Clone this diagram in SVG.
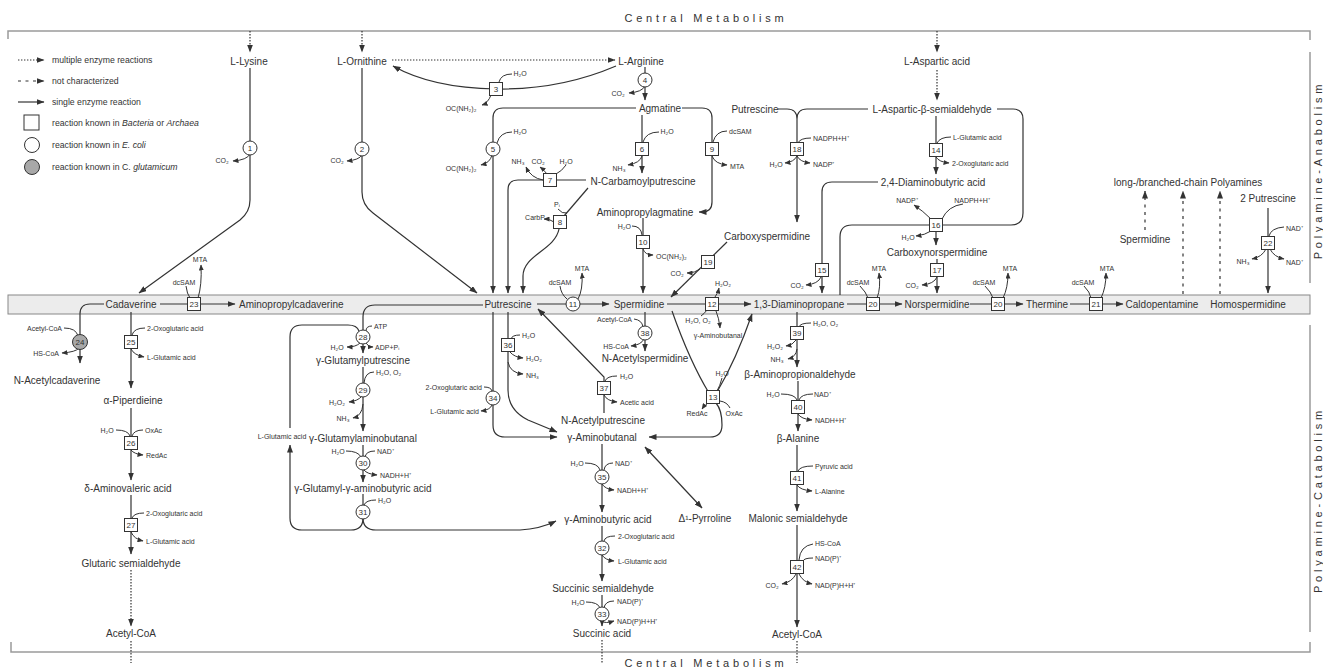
<svg xmlns="http://www.w3.org/2000/svg" width="1323" height="669" viewBox="0 0 1323 669">
<defs>
<style>
text{font-family:"Liberation Sans",Arial,sans-serif;fill:#333}
.n{font-size:10px;text-anchor:middle}
.nl{font-size:10px;text-anchor:start}
.s{font-size:7px}
.sm{font-size:7px;text-anchor:middle}
.se{font-size:7px;text-anchor:end}
.k{font-size:8px;text-anchor:middle}
.lg{font-size:8.7px}
.fr{fill:none;stroke:#9a9a9a;stroke-width:1.5}
.ti{font-size:11px;letter-spacing:3.8px;text-anchor:middle}
.l{fill:none;stroke:#333;stroke-width:1.2}
.a{marker-end:url(#ah)}
.h{fill:none;stroke:#333;stroke-width:1}
.ha{marker-end:url(#sh)}
.dot{stroke-dasharray:1.4 1.6}
.dash{stroke-dasharray:3 4.5}
.bx{fill:#fff;stroke:#333;stroke-width:1}
.ci{fill:#fff;stroke:#333;stroke-width:1}
.gy{fill:#a8a8a8;stroke:#333;stroke-width:1}
</style>
<marker id="ah" viewBox="0 0 8 6" refX="7.5" refY="3" markerWidth="8" markerHeight="6" markerUnits="userSpaceOnUse" orient="auto"><path d="M0,0L8,3L0,6z" fill="#333"/></marker>
<marker id="ahr" viewBox="0 0 8 6" refX="7.5" refY="3" markerWidth="8" markerHeight="6" markerUnits="userSpaceOnUse" orient="auto-start-reverse"><path d="M0,0L8,3L0,6z" fill="#333"/></marker>
<marker id="sh" viewBox="0 0 6 5" refX="5.5" refY="2.5" markerWidth="6" markerHeight="5" markerUnits="userSpaceOnUse" orient="auto"><path d="M0,0L6,2.5L0,5z" fill="#333"/></marker>
</defs>
<rect width="1323" height="669" fill="#fff"/>
<g id="frame">
<path class="fr" d="M8,39V31H1310V40"/>
<path class="fr" d="M11,642V652H1310V642"/>
<path class="fr" d="M1310,52V283M1310,325V632"/>
<rect x="8" y="295" width="1302" height="19" fill="#ececec" stroke="#888" stroke-width="1"/>
<text class="ti" x="706" y="22">Central Metabolism</text>
<text class="ti" x="706" y="667">Central Metabolism</text>
<text class="ti" transform="translate(1322,170) rotate(-90)">Polyamine-Anabolism</text>
<text class="ti" transform="translate(1322,500) rotate(-90)">Polyamine-Catabolism</text>
</g>
<g id="legend">
<path class="l dot a" d="M18,60H44"/>
<text class="lg" x="52" y="63">multiple enzyme reactions</text>
<path class="l dash a" d="M18,81H44"/>
<text class="lg" x="52" y="84">not characterized</text>
<path class="l a" d="M18,102H44"/>
<text class="lg" x="52" y="105">single enzyme reaction</text>
<rect class="bx" x="24" y="115" width="15" height="15"/>
<text class="lg" x="52" y="126">reaction known in <tspan font-style="italic">Bacteria</tspan> or <tspan font-style="italic">Archaea</tspan></text>
<circle class="ci" cx="32" cy="145" r="7.5"/>
<text class="lg" x="52" y="148">reaction known in <tspan font-style="italic">E. coli</tspan></text>
<circle class="gy" cx="32" cy="167" r="7.5"/>
<text class="lg" x="52" y="170">reaction known in C. <tspan font-style="italic">glutamicum</tspan></text>
</g>
<g id="connectors">
<path class="l dot a" d="M250,31V52"/>
<path class="l dot a" d="M362,31V52"/>
<path class="l dot a" d="M937,31V52"/>
<path class="l dot a" d="M392,60H615"/>
<path class="l dot a" d="M937,70V100"/>
<path class="l a" d="M250,68V200Q250,212 240,220L139,293"/>
<path class="l a" d="M362,68V192Q362,205 373,213L477,293"/>
<path class="l a" d="M616,66Q560,90 496,89Q432,88 393,66"/>
<path class="l a" d="M645,67V100"/>
<path class="l a" d="M636,108H503Q493,108 493,118V293"/>
<path class="l a" d="M642,115V173"/>
<path class="l a" d="M586,180H518Q508,180 508,190V293"/>
<path class="l" d="M588,188L564,216"/>
<path class="l a" d="M559,229C555,250 523,255 523,276V293"/>
<path class="l a" d="M682,108H702Q712,108 712,118V202Q712,212 702,212H699"/>
<path class="l a" d="M643,218V293"/>
<path class="l a" d="M727,242L671,297"/>
<path class="l" d="M778,109H787Q797,109 797,119M868,109H807Q797,109 797,119"/>
<path class="l a" d="M797,119V222"/>
<path class="l a" d="M936,116V174"/>
<path class="l a" d="M878,182H832Q822,182 822,192V293"/>
<path class="l" d="M840,295V237Q840,225 852,225H930"/>
<path class="l" d="M997,109H1013Q1023,109 1023,119V213Q1023,225 1011,225H942"/>
<path class="l a" d="M936,232V245"/>
<path class="l a" d="M937,259V293"/>
<path class="l a" d="M1268,208V293"/>
<path class="l dash a" d="M1145,230V191"/>
<path class="l dash a" d="M1183,294V191"/>
<path class="l dash a" d="M1220,294V191"/>
<path class="l a" d="M160,304H235"/>
<path class="l a" d="M537,304H609"/>
<path class="l a" d="M667,304H751"/>
<path class="l a" d="M847,304H902"/>
<path class="l a" d="M970,304H1023"/>
<path class="l a" d="M1070,304H1123"/>
<path class="l a" d="M104,304H90Q80,304 80,314V363"/>
<path class="l a" d="M131,312V388"/>
<path class="l a" d="M131,408V480"/>
<path class="l a" d="M131,495V554"/>
<path class="l dot a" d="M131,570V626"/>
<path class="l dot" d="M131,641V663"/>
<path class="l a" d="M483,305H375Q363,305 363,317V353"/>
<path class="l" d="M290,428V337Q290,325 302,325H348Q357,325 359,331"/>
<path class="l a" d="M363,367V431"/>
<path class="l a" d="M363,445V482"/>
<path class="l" d="M363,494V506"/>
<path class="l a" d="M363,518Q363,530 351,530H302Q290,530 290,518V445"/>
<path class="l a" d="M363,518Q363,530 376,530H520Q540,529 556,521"/>
<path class="l a" d="M493,312V425Q493,437 505,437H557"/>
<path class="l a" d="M508,312V390Q508,410 528,420L557,432"/>
<path class="l a" d="M604,413V377L538,309"/>
<path class="l a" d="M645,312V351"/>
<path class="l" d="M672,311Q690,362 709,393"/>
<path class="l a" d="M717,392Q736,360 752,314"/>
<path class="l a" d="M716,403Q722,410 722,425Q722,437 710,437H649"/>
<path class="l a" d="M602,444V512"/>
<path class="l a" d="M602,526V581"/>
<path class="l a" d="M602,595V626"/>
<path class="l dot" d="M602,640V663"/>
<path class="l a" style="marker-start:url(#ahr)" d="M645,447L702,508"/>
<path class="l a" d="M797,312V367"/>
<path class="l a" d="M798,381V431"/>
<path class="l a" d="M797,445V511"/>
<path class="l a" d="M797,525V627"/>
<path class="l dot" d="M797,641V663"/>
<path class="h ha" d="M250,154Q247,160 233,161"/>
<path class="h ha" d="M362,155Q359,160 347,161"/>
<path class="h" d="M512,74Q501,74 499,82"/>
<path class="h ha" d="M491,95Q488,103 482,105"/>
<path class="h ha" d="M645,86Q642,92 629,93"/>
<path class="h" d="M512,132Q500,132 497,143"/>
<path class="h ha" d="M492,155Q490,163 481,165"/>
<path class="h" d="M659,132Q646,132 643,142"/>
<path class="h ha" d="M642,156Q640,163 628,165"/>
<path class="h ha" d="M543,180Q531,178 526,167"/>
<path class="h ha" d="M547,174Q544,170 540,167"/>
<path class="h" d="M566,165Q562,171 556,174"/>
<path class="h" d="M558,209Q562,214 567,213"/>
<path class="h ha" d="M554,222Q550,219 544,219"/>
<path class="h" d="M727,131Q716,131 713,142"/>
<path class="h ha" d="M712,156Q715,164 727,165"/>
<path class="h" d="M632,226Q641,226 642,235"/>
<path class="h ha" d="M643,249Q645,255 653,255"/>
<path class="h ha" d="M700,269Q695,273 687,273"/>
<path class="h" d="M811,138Q800,138 798,143"/>
<path class="h ha" d="M797,156Q800,162 810,163"/>
<path class="h ha" d="M797,156Q794,162 785,163"/>
<path class="h" d="M951,137Q940,137 937,143"/>
<path class="h ha" d="M936,157Q939,162 949,163"/>
<path class="h ha" d="M821,277Q818,284 806,285"/>
<path class="h ha" d="M931,219Q923,211 914,205"/>
<path class="h" d="M963,204Q948,206 942,219"/>
<path class="h ha" d="M931,231Q925,235 916,236"/>
<path class="h ha" d="M937,277Q934,284 922,285"/>
<path class="h" d="M560,286Q561,294 567,299"/>
<path class="h ha" d="M578,299Q583,290 582,273"/>
<path class="h ha" d="M715,297Q718,293 719,288"/>
<path class="h" d="M701,316Q704,314 707,310"/>
<path class="h ha" d="M716,311Q719,318 720,328"/>
<path class="h" d="M186,286Q187,294 190,298"/>
<path class="h ha" d="M198,298Q202,285 201,265"/>
<path class="h" d="M860,286Q866,292 868,298"/>
<path class="h ha" d="M877,298Q881,288 879,273"/>
<path class="h" d="M985,286Q991,292 993,298"/>
<path class="h ha" d="M1003,298Q1008,288 1008,273"/>
<path class="h" d="M1084,286Q1090,292 1091,298"/>
<path class="h ha" d="M1101,298Q1106,288 1106,273"/>
<path class="h" d="M1284,227Q1271,228 1269,236"/>
<path class="h ha" d="M1266,249Q1262,257 1252,259"/>
<path class="h ha" d="M1270,249Q1274,257 1284,259"/>
<path class="h" d="M64,328Q76,328 78,336"/>
<path class="h ha" d="M79,348Q76,352 62,353"/>
<path class="h" d="M145,328Q134,328 132,335"/>
<path class="h ha" d="M131,349Q134,355 144,357"/>
<path class="h" d="M116,430Q128,430 130,436"/>
<path class="h" d="M143,430Q134,430 132,436"/>
<path class="h ha" d="M131,450Q134,454 143,455"/>
<path class="h" d="M144,513Q134,513 132,518"/>
<path class="h ha" d="M131,532Q134,539 143,541"/>
<path class="h" d="M372,326Q366,326 366,331"/>
<path class="h ha" d="M360,343Q356,347 347,347"/>
<path class="h ha" d="M366,343Q368,347 373,347"/>
<path class="h" d="M374,372Q365,372 364,383"/>
<path class="h ha" d="M362,396Q358,401 349,402"/>
<path class="h ha" d="M363,404Q362,416 353,418"/>
<path class="h" d="M346,451Q358,451 361,457"/>
<path class="h" d="M375,451Q366,451 365,457"/>
<path class="h ha" d="M364,470Q367,474 377,475"/>
<path class="h" d="M376,500Q366,500 364,505"/>
<path class="h" d="M484,387Q491,387 492,391"/>
<path class="h ha" d="M492,405Q490,410 481,411"/>
<path class="h" d="M520,335Q512,335 511,339"/>
<path class="h ha" d="M510,352Q514,357 523,358"/>
<path class="h ha" d="M508,362Q510,373 523,374"/>
<path class="h" d="M617,376Q607,376 605,381"/>
<path class="h ha" d="M604,395Q607,401 617,402"/>
<path class="h" d="M634,319Q642,320 643,327"/>
<path class="h ha" d="M644,339Q641,345 631,346"/>
<path class="h" d="M722,378Q720,386 717,391"/>
<path class="h ha" d="M708,403Q704,406 702,409"/>
<path class="h" d="M730,408Q727,402 720,401"/>
<path class="h" d="M585,463Q598,463 600,470"/>
<path class="h" d="M613,463Q605,463 604,470"/>
<path class="h ha" d="M602,484Q605,489 614,490"/>
<path class="h" d="M615,536Q605,536 604,541"/>
<path class="h ha" d="M602,555Q605,560 614,561"/>
<path class="h" d="M586,602Q598,602 600,608"/>
<path class="h" d="M614,601Q605,601 604,608"/>
<path class="h ha" d="M602,621Q605,624 614,621"/>
<path class="h" d="M811,323Q800,323 799,327"/>
<path class="h ha" d="M796,340Q793,345 786,346"/>
<path class="h ha" d="M797,349Q796,357 788,359"/>
<path class="h" d="M781,394Q795,394 797,400"/>
<path class="h" d="M813,394Q801,394 799,400"/>
<path class="h ha" d="M798,414Q801,419 812,420"/>
<path class="h" d="M813,466Q800,466 798,471"/>
<path class="h ha" d="M797,485Q800,490 812,491"/>
<path class="h" d="M813,544Q800,546 799,560"/>
<path class="h" d="M813,558Q804,558 803,561"/>
<path class="h ha" d="M796,574Q792,582 782,584"/>
<path class="h ha" d="M799,574Q803,582 812,584"/>
</g>
<g id="nodes">
<g id="n-lys"><text class="n" x="249" y="64.5">L-Lysine</text></g>
<g id="n-orn"><text class="n" x="362" y="64.5">L-Ornithine</text></g>
<g id="n-arg"><text class="n" x="641" y="64.5">L-Arginine</text></g>
<g id="n-asp"><text class="n" x="937" y="64.5">L-Aspartic acid</text></g>
<g id="n-agm"><text class="n" x="660" y="111.5">Agmatine</text></g>
<g id="n-put2"><text class="n" x="755" y="112.5">Putrescine</text></g>
<g id="n-asa"><text class="n" x="932" y="112.5">L-Aspartic-β-semialdehyde</text></g>
<g id="n-ncp"><text class="n" x="643" y="184.5">N-Carbamoylputrescine</text></g>
<g id="n-dab"><text class="n" x="933" y="185.5">2,4-Diaminobutyric acid</text></g>
<g id="n-lbp"><text class="n" x="1188" y="185.5">long-/branched-chain Polyamines</text></g>
<g id="n-put3"><text class="n" x="1268" y="201.5">2 Putrescine</text></g>
<g id="n-apa"><text class="n" x="645" y="215.5">Aminopropylagmatine</text></g>
<g id="n-cspd"><text class="n" x="767" y="239.5">Carboxyspermidine</text></g>
<g id="n-spd2"><text class="n" x="1145" y="242.5">Spermidine</text></g>
<g id="n-cnspd"><text class="n" x="937" y="255.5">Carboxynorspermidine</text></g>
<g id="n-cad"><text class="n" x="131" y="307.5">Cadaverine</text></g>
<g id="n-apcad"><text class="nl" x="239" y="307.5">Aminopropylcadaverine</text></g>
<g id="n-put"><text class="n" x="508" y="307.5">Putrescine</text></g>
<g id="n-spd"><text class="n" x="639" y="307.5">Spermidine</text></g>
<g id="n-dap"><text class="n" x="799" y="307.5">1,3-Diaminopropane</text></g>
<g id="n-nspd"><text class="n" x="937" y="307.5">Norspermidine</text></g>
<g id="n-ther"><text class="n" x="1047" y="307.5">Thermine</text></g>
<g id="n-cald"><text class="n" x="1162" y="307.5">Caldopentamine</text></g>
<g id="n-hspd"><text class="n" x="1248" y="307.5">Homospermidine</text></g>
<g id="n-nacad"><text class="n" x="57" y="383.5">N-Acetylcadaverine</text></g>
<g id="n-pip"><text class="n" x="133" y="403.5">α-Piperdieine</text></g>
<g id="n-ava"><text class="n" x="128" y="491.5">δ-Aminovaleric acid</text></g>
<g id="n-gsa"><text class="n" x="131" y="566.5">Glutaric semialdehyde</text></g>
<g id="n-acoa1"><text class="n" x="131" y="636.5">Acetyl-CoA</text></g>
<g id="n-gput"><text class="n" x="363" y="363.5">γ-Glutamylputrescine</text></g>
<g id="n-gab"><text class="n" x="363" y="441.5">γ-Glutamylaminobutanal</text></g>
<g id="n-ggaba"><text class="n" x="363" y="491.5">γ-Glutamyl-γ-aminobutyric acid</text></g>
<g id="n-glu"><text class="sm" x="282" y="438.5">L-Glutamic acid</text></g>
<g id="n-naspd"><text class="n" x="645" y="361.5">N-Acetylspermidine</text></g>
<g id="n-naput"><text class="n" x="603" y="423.5">N-Acetylputrescine</text></g>
<g id="n-gabal"><text class="n" x="602" y="440.5">γ-Aminobutanal</text></g>
<g id="n-gaba"><text class="n" x="608" y="522.5">γ-Aminobutyric acid</text></g>
<g id="n-pyr"><text class="n" x="705" y="521.5">Δ¹-Pyrroline</text></g>
<g id="n-ssa"><text class="n" x="603" y="591.5">Succinic semialdehyde</text></g>
<g id="n-suc"><text class="n" x="602" y="636.5">Succinic acid</text></g>
<g id="n-bapa"><text class="n" x="800" y="377.5">β-Aminopropionaldehyde</text></g>
<g id="n-bala"><text class="n" x="798" y="441.5">β-Alanine</text></g>
<g id="n-msa"><text class="n" x="798" y="521.5">Malonic semialdehyde</text></g>
<g id="n-acoa2"><text class="n" x="797" y="637.5">Acetyl-CoA</text></g>
</g>
<g id="reactions">
<g id="r1"><circle class="ci" cx="250" cy="148" r="7"/><text class="k" x="250" y="150.9">1</text><text class="sm" x="222" y="162.5">CO₂</text></g>
<g id="r2"><circle class="ci" cx="362" cy="149" r="7"/><text class="k" x="362" y="151.9">2</text><text class="sm" x="337" y="162.5">CO₂</text></g>
<g id="r3"><rect class="bx" x="489.5" y="82.5" width="13" height="13"/><text class="k" x="496" y="91.9">3</text><text class="sm" x="520" y="75.5">H₂O</text><text class="sm" x="461" y="110.5">OC(NH₂)₂</text></g>
<g id="r4"><circle class="ci" cx="645" cy="80" r="7"/><text class="k" x="645" y="82.9">4</text><text class="sm" x="618" y="95.5">CO₂</text></g>
<g id="r5"><circle class="ci" cx="493" cy="149" r="7"/><text class="k" x="493" y="151.9">5</text><text class="sm" x="520" y="133.5">H₂O</text><text class="sm" x="461" y="170.5">OC(NH₂)₂</text></g>
<g id="r6"><rect class="bx" x="635.5" y="142.5" width="13" height="13"/><text class="k" x="642" y="151.9">6</text><text class="sm" x="667" y="133.5">H₂O</text><text class="sm" x="619" y="170.5">NH₃</text></g>
<g id="r7"><rect class="bx" x="543.5" y="173.5" width="13" height="13"/><text class="k" x="550" y="182.9">7</text><text class="sm" x="518" y="163.5">NH₃</text><text class="sm" x="538" y="163.5">CO₂</text><text class="sm" x="566" y="163.5">H₂O</text></g>
<g id="r8"><rect class="bx" x="553.5" y="215.5" width="13" height="13"/><text class="k" x="560" y="224.9">8</text><text class="sm" x="557" y="206.5">Pᵢ</text><text class="sm" x="535" y="219.5">CarbP</text></g>
<g id="r9"><rect class="bx" x="705.5" y="142.5" width="13" height="13"/><text class="k" x="712" y="151.9">9</text><text class="s" x="729" y="133.5">dcSAM</text><text class="s" x="730" y="168.5">MTA</text></g>
<g id="r10"><rect class="bx" x="636.5" y="235.5" width="13" height="13"/><text class="k" x="643" y="244.9">10</text><text class="se" x="631" y="228.5">H₂O</text><text class="s" x="656" y="258.5">OC(NH₂)₂</text></g>
<g id="r11"><circle class="ci" cx="573" cy="304" r="7"/><text class="k" x="573" y="306.9">11</text><text class="sm" x="560" y="284.5">dcSAM</text><text class="sm" x="582" y="270.5">MTA</text></g>
<g id="r12"><rect class="bx" x="705.5" y="297.5" width="13" height="13"/><text class="k" x="712" y="306.9">12</text><text class="sm" x="723" y="285.5">H₂O₂</text><text class="sm" x="698" y="322.5">H₂O, O₂</text><text class="sm" x="718" y="337.5">γ-Aminobutanal</text></g>
<g id="r13"><rect class="bx" x="706.5" y="390.5" width="13" height="13"/><text class="k" x="713" y="399.9">13</text><text class="sm" x="722" y="375.5">H₂O</text><text class="sm" x="697" y="415.5">RedAc</text><text class="sm" x="734" y="415.5">OxAc</text></g>
<g id="r14"><rect class="bx" x="929.5" y="143.5" width="13" height="13"/><text class="k" x="936" y="152.9">14</text><text class="s" x="953" y="139.5">L-Glutamic acid</text><text class="s" x="952" y="165.5">2-Oxoglutaric acid</text></g>
<g id="r15"><rect class="bx" x="815.5" y="263.5" width="13" height="13"/><text class="k" x="822" y="272.9">15</text><text class="sm" x="797" y="287.5">CO₂</text></g>
<g id="r16"><rect class="bx" x="929.5" y="218.5" width="13" height="13"/><text class="k" x="936" y="227.9">16</text><text class="sm" x="907" y="202.5">NADP⁺</text><text class="sm" x="972" y="202.5">NADPH+H⁺</text><text class="sm" x="908" y="239.5">H₂O</text></g>
<g id="r17"><rect class="bx" x="930.5" y="263.5" width="13" height="13"/><text class="k" x="937" y="272.9">17</text><text class="sm" x="912" y="287.5">CO₂</text></g>
<g id="r18"><rect class="bx" x="790.5" y="142.5" width="13" height="13"/><text class="k" x="797" y="151.9">18</text><text class="s" x="813" y="140.5">NADPH+H⁺</text><text class="s" x="813" y="166.5">NADP⁺</text><text class="sm" x="776" y="166.5">H₂O</text></g>
<g id="r19"><rect class="bx" x="701.5" y="255.5" width="13" height="13"/><text class="k" x="708" y="264.9">19</text><text class="sm" x="677" y="275.5">CO₂</text></g>
<g id="r20a"><rect class="bx" x="866.5" y="297.5" width="13" height="13"/><text class="k" x="873" y="306.9">20</text><text class="sm" x="858" y="284.5">dcSAM</text><text class="sm" x="879" y="270.5">MTA</text></g>
<g id="r20b"><rect class="bx" x="991.5" y="297.5" width="13" height="13"/><text class="k" x="998" y="306.9">20</text><text class="sm" x="984" y="284.5">dcSAM</text><text class="sm" x="1010" y="270.5">MTA</text></g>
<g id="r21"><rect class="bx" x="1089.5" y="297.5" width="13" height="13"/><text class="k" x="1096" y="306.9">21</text><text class="sm" x="1083" y="284.5">dcSAM</text><text class="sm" x="1107" y="270.5">MTA</text></g>
<g id="r22"><rect class="bx" x="1261.5" y="236.5" width="13" height="13"/><text class="k" x="1268" y="245.9">22</text><text class="s" x="1286" y="230.5">NAD⁺</text><text class="sm" x="1243" y="263.5">NH₃</text><text class="s" x="1286" y="264.5">NAD⁺</text></g>
<g id="r23"><rect class="bx" x="187.5" y="297.5" width="13" height="13"/><text class="k" x="194" y="306.9">23</text><text class="sm" x="184" y="284.5">dcSAM</text><text class="sm" x="200" y="261.5">MTA</text></g>
<g id="r24"><circle class="gy" cx="80" cy="342" r="7.5"/><text class="k" x="80" y="344.9">24</text><text class="se" x="62" y="330.5">Acetyl-CoA</text><text class="se" x="59" y="355.5">HS-CoA</text></g>
<g id="r25"><rect class="bx" x="124.5" y="335.5" width="13" height="13"/><text class="k" x="131" y="344.9">25</text><text class="s" x="147" y="330.5">2-Oxoglutaric acid</text><text class="s" x="147" y="359.5">L-Glutamic acid</text></g>
<g id="r26"><rect class="bx" x="124.5" y="436.5" width="13" height="13"/><text class="k" x="131" y="445.9">26</text><text class="sm" x="107" y="432.5">H₂O</text><text class="s" x="145" y="432.5">OxAc</text><text class="s" x="146" y="457.5">RedAc</text></g>
<g id="r27"><rect class="bx" x="124.5" y="518.5" width="13" height="13"/><text class="k" x="131" y="527.9">27</text><text class="s" x="146" y="515.5">2-Oxoglutaric acid</text><text class="s" x="146" y="543.5">L-Glutamic acid</text></g>
<g id="r28"><circle class="ci" cx="363" cy="337" r="7"/><text class="k" x="363" y="339.9">28</text><text class="s" x="374" y="328.5">ATP</text><text class="sm" x="337" y="349.5">H₂O</text><text class="s" x="375" y="349.5">ADP+Pᵢ</text></g>
<g id="r29"><circle class="ci" cx="363" cy="390" r="7"/><text class="k" x="363" y="392.9">29</text><text class="s" x="376" y="374.5">H₂O, O₂</text><text class="sm" x="337" y="404.5">H₂O₂</text><text class="sm" x="343" y="420.5">NH₃</text></g>
<g id="r30"><circle class="ci" cx="363" cy="463" r="7"/><text class="k" x="363" y="465.9">30</text><text class="sm" x="338" y="453.5">H₂O</text><text class="s" x="377" y="453.5">NAD⁺</text><text class="s" x="380" y="477.5">NADH+H⁺</text></g>
<g id="r31"><circle class="ci" cx="363" cy="512" r="7"/><text class="k" x="363" y="514.9">31</text><text class="s" x="378" y="502.5">H₂O</text></g>
<g id="r32"><circle class="ci" cx="602" cy="548" r="7"/><text class="k" x="602" y="550.9">32</text><text class="s" x="618" y="538.5">2-Oxoglutaric acid</text><text class="s" x="618" y="563.5">L-Glutamic acid</text></g>
<g id="r33"><circle class="ci" cx="602" cy="614" r="7"/><text class="k" x="602" y="616.9">33</text><text class="sm" x="578" y="604.5">H₂O</text><text class="s" x="617" y="603.5">NAD(P)⁺</text><text class="s" x="617" y="623.5">NAD(P)H+H⁺</text></g>
<g id="r34"><circle class="ci" cx="493" cy="398" r="7"/><text class="k" x="493" y="400.9">34</text><text class="se" x="482" y="389.5">2-Oxoglutaric acid</text><text class="se" x="479" y="413.5">L-Glutamic acid</text></g>
<g id="r35"><circle class="ci" cx="602" cy="477" r="7"/><text class="k" x="602" y="479.9">35</text><text class="sm" x="577" y="465.5">H₂O</text><text class="s" x="615" y="465.5">NAD⁺</text><text class="s" x="617" y="492.5">NADH+H⁺</text></g>
<g id="r36"><rect class="bx" x="501.5" y="338.5" width="13" height="13"/><text class="k" x="508" y="347.9">36</text><text class="s" x="522" y="337.5">H₂O</text><text class="s" x="526" y="360.5">H₂O₂</text><text class="s" x="526" y="377.5">NH₃</text></g>
<g id="r37"><rect class="bx" x="597.5" y="381.5" width="13" height="13"/><text class="k" x="604" y="390.9">37</text><text class="s" x="620" y="378.5">H₂O</text><text class="s" x="620" y="404.5">Acetic acid</text></g>
<g id="r38"><circle class="ci" cx="645" cy="333" r="7"/><text class="k" x="645" y="335.9">38</text><text class="se" x="632" y="321.5">Acetyl-CoA</text><text class="se" x="629" y="348.5">HS-CoA</text></g>
<g id="r39"><rect class="bx" x="790.5" y="326.5" width="13" height="13"/><text class="k" x="797" y="335.9">39</text><text class="s" x="813" y="325.5">H₂O, O₂</text><text class="sm" x="775" y="348.5">H₂O₂</text><text class="sm" x="777" y="361.5">NH₃</text></g>
<g id="r40"><rect class="bx" x="791.5" y="400.5" width="13" height="13"/><text class="k" x="798" y="409.9">40</text><text class="sm" x="773" y="396.5">H₂O</text><text class="s" x="814" y="396.5">NAD⁺</text><text class="s" x="815" y="422.5">NADH+H⁺</text></g>
<g id="r41"><rect class="bx" x="790.5" y="471.5" width="13" height="13"/><text class="k" x="797" y="480.9">41</text><text class="s" x="815" y="468.5">Pyruvic acid</text><text class="s" x="815" y="493.5">L-Alanine</text></g>
<g id="r42"><rect class="bx" x="790.5" y="560.5" width="13" height="13"/><text class="k" x="797" y="569.9">42</text><text class="s" x="815" y="545.5">HS-CoA</text><text class="s" x="815" y="560.5">NAD(P)⁺</text><text class="sm" x="772" y="587.5">CO₂</text><text class="s" x="815" y="587.5">NAD(P)H+H⁺</text></g>
</g>
</svg>
